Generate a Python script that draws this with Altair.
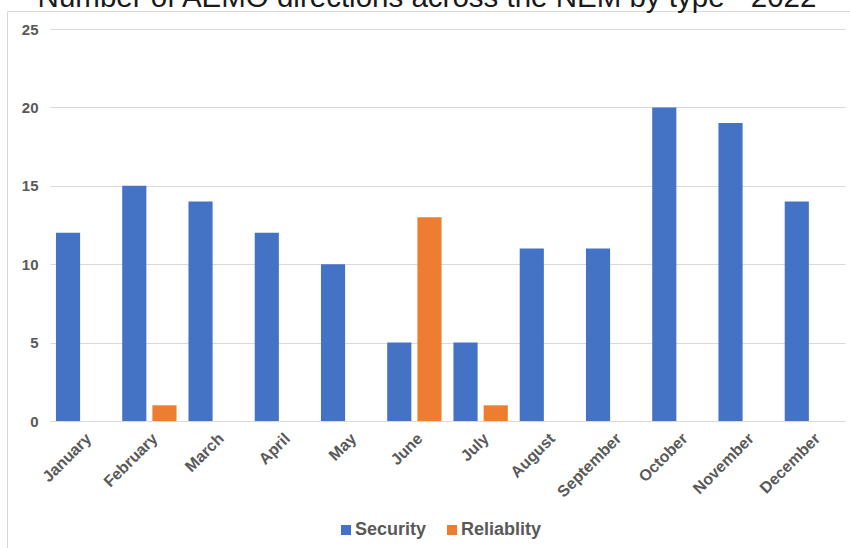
import altair as alt
import pandas as pd

months = ["January", "February", "March", "April", "May", "June",
          "July", "August", "September", "October", "November", "December"]
types = ["Security", "Reliablity"]
security = [12, 15, 14, 12, 10, 5, 5, 11, 11, 20, 19, 14]
reliability = [0, 1, 0, 0, 0, 13, 1, 0, 0, 0, 0, 0]
title_text = "Number of AEMO directions across the NEM by type - 2022"

rows = []
for m, s, r in zip(months, security, reliability):
    rows.append({"month": m, "type": types[0], "value": s})
    rows.append({"month": m, "type": types[1], "value": r})
df = pd.DataFrame(rows)

FONT = "Liberation Sans"
LABEL = "#595959"

bars = alt.Chart(df).mark_bar().encode(
    x=alt.X("month:N", sort=months, title=None,
            scale=alt.Scale(paddingInner=0.18, paddingOuter=0.09),
            axis=alt.Axis(labelAngle=-45, labelFont=FONT, labelFontSize=16,
                          labelFontWeight="bold", labelColor=LABEL, ticks=False,
                          domainColor="#D9D9D9", labelPadding=9)),
    xOffset=alt.XOffset("type:N", sort=types, scale=alt.Scale(paddingInner=0.2)),
    y=alt.Y("value:Q", title=None,
            scale=alt.Scale(domain=[0, 25], nice=False),
            axis=alt.Axis(values=[0, 5, 10, 15, 20, 25], labelFont=FONT,
                          labelFontSize=15, labelFontWeight="bold", labelColor=LABEL,
                          ticks=False, domain=False, gridColor="#D9D9D9",
                          labelPadding=12)),
    color=alt.Color("type:N", sort=types, title=None,
                    scale=alt.Scale(domain=types, range=["#4472C4", "#ED7D31"]),
                    legend=alt.Legend(orient="none", direction="horizontal",
                                      legendX=287, legendY=492,
                                      symbolType="square", symbolSize=100,
                                      symbolStrokeWidth=0, labelFont=FONT,
                                      labelFontSize=18, labelFontWeight="bold",
                                      labelColor=LABEL, labelOffset=0,
                                      columnPadding=16)),
)

title = alt.Chart(pd.DataFrame({"t": [title_text]})).mark_text(
    font=FONT, fontSize=29.5, color="#1a1a1a", align="center", baseline="alphabetic"
).encode(text="t:N", x=alt.value(377), y=alt.value(-22))

border = alt.Chart(pd.DataFrame({"b": [1]})).mark_rect(
    fillOpacity=0, stroke="#D9D9D9", strokeWidth=1
).encode(x=alt.value(-42.5), x2=alt.value(820), y=alt.value(-17.5), y2=alt.value(540))

chart = alt.layer(border, bars, title).properties(
    width=795, height=392,
    autosize=alt.AutoSizeParams(type="none"),
    padding={"left": 50, "top": 29, "right": 5, "bottom": 127},
).configure_view(stroke=None)

chart.save("out.html", embed_options={"renderer": "svg", "actions": False})
